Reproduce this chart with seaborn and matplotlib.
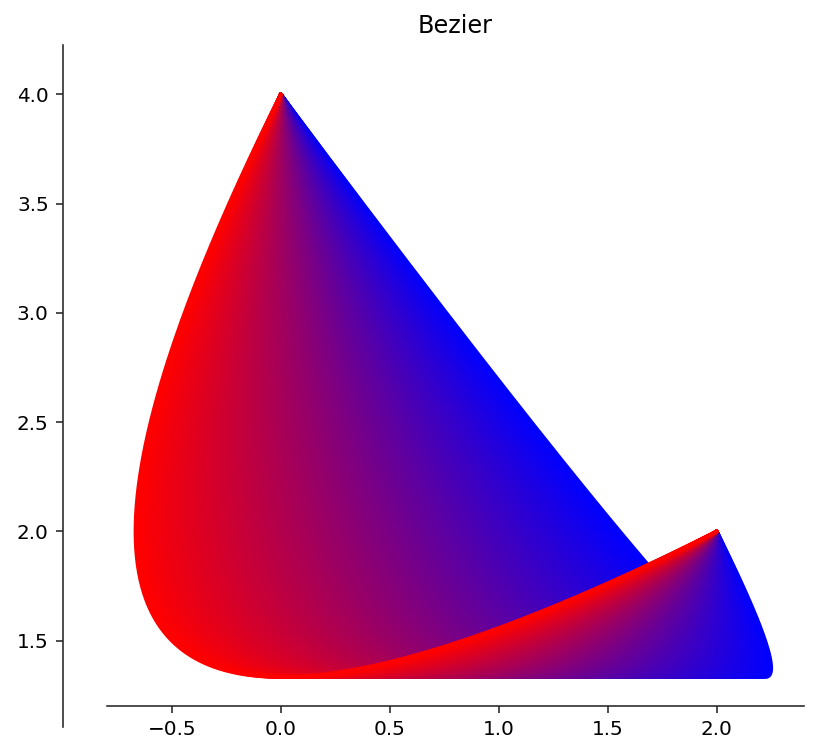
import numpy as np
import pandas as pd
import matplotlib
matplotlib.use("Agg")
import matplotlib.pyplot as plt
import seaborn as sns

# quadratic bezier family: fixed ends, control point slides along y = 0
start_point = [0.0, 4.0]
end_point = [2.0, 2.0]
control_y = 0.0
control_x_first = 3.0    # blue curve
control_x_last = -2.0    # red curve
n_curves = 200
n_samples = 300

sns.set_style("ticks", {"text.color": "black", "xtick.color": ".15", "ytick.color": ".15"})

control_xs = np.linspace(control_x_first, control_x_last, n_curves)
t = np.linspace(0.0, 1.0, n_samples)

frames = []
for i, cx in enumerate(control_xs):
    a = (1 - t) ** 2
    b = 2 * t * (1 - t)
    c = t ** 2
    x = a * start_point[0] + b * cx + c * end_point[0]
    y = a * start_point[1] + b * control_y + c * end_point[1]
    frames.append(pd.DataFrame({"x": x, "y": y, "curve": i}))
df = pd.concat(frames, ignore_index=True)

palette = sns.blend_palette(["blue", "red"], n_colors=n_curves)

fig = plt.figure(figsize=(819 / 144, 756 / 144), dpi=144)
ax = fig.add_axes([107 / 819, 1 - 727 / 756, 697 / 819, 682 / 756])

sns.lineplot(data=df, x="x", y="y", hue="curve", palette=palette,
             sort=False, estimator=None, legend=False, linewidth=1.8, ax=ax)

ax.set_xlim(-0.797, 2.400)
ax.set_ylim(1.105, 4.2255)
ax.set_xticks([-0.5, 0.0, 0.5, 1.0, 1.5, 2.0])
ax.set_yticks([1.5, 2.0, 2.5, 3.0, 3.5, 4.0])
ax.tick_params(labelcolor="black")
ax.set_xlabel("")
ax.set_ylabel("")
ax.set_title("Bezier", color="black")

ax.spines["top"].set_visible(False)
ax.spines["right"].set_visible(False)
ax.spines["left"].set_position(("data", -1.0))
ax.spines["bottom"].set_position(("data", 1.2))

plt.savefig("out.png", dpi=144)
plt.close()
